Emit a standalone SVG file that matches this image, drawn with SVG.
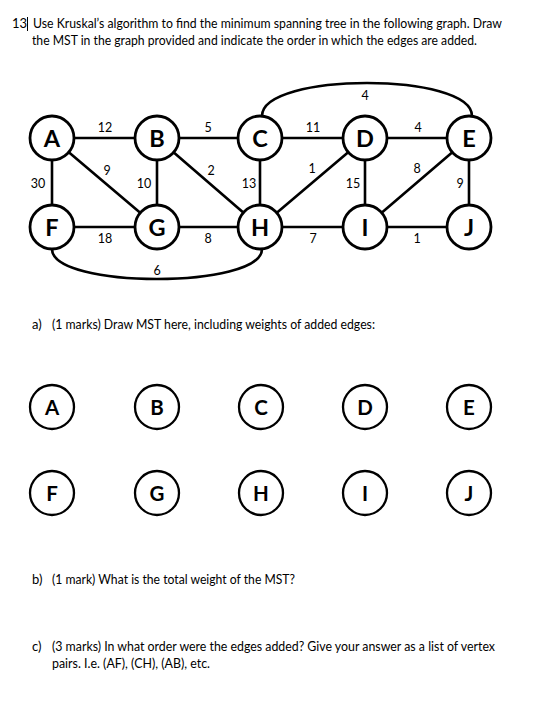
<svg xmlns="http://www.w3.org/2000/svg" width="549" height="707" viewBox="0 0 549 707">
<style>
.t{font-family:Lato,"Liberation Sans",sans-serif;font-size:13px;fill:#000}
.w{font-family:Lato,"Liberation Sans",sans-serif;font-size:12.5px;fill:#000;text-anchor:middle}
.n circle{fill:#fff;stroke:#000;stroke-width:2.8}
.n text{font-family:Lato,"Liberation Sans",sans-serif;font-weight:bold;font-size:23.5px;text-anchor:middle;fill:#000}
.m circle{fill:#fff;stroke:#000;stroke-width:2.3}
.m text{font-family:Lato,"Liberation Sans",sans-serif;font-weight:bold;font-size:20.5px;text-anchor:middle;fill:#000}
.e{stroke:#000;stroke-width:2.6;fill:none}
</style>
<rect width="549" height="707" fill="#fff"/>
<text class="t" x="12" y="28">13</text>
<line x1="27.5" y1="17" x2="27.5" y2="31" stroke="#000" stroke-width="1"/>
<text class="t" x="33" y="28" textLength="469" lengthAdjust="spacingAndGlyphs">Use Kruskal’s algorithm to find the minimum spanning tree in the following graph. Draw</text>
<text class="t" x="32" y="45" textLength="445" lengthAdjust="spacingAndGlyphs">the MST in the graph provided and indicate the order in which the edges are added.</text>
<g id="connectors">
<path class="e" d="M52 138H469M52 227H469M52 138V227M157 138V227M260 138V227M365 138V227M469 138V227M52 138L157 227M157 138L260 227M365 138L260 227M469 138L365 227"/>
<path class="e" d="M262 116C262 72 472 72 472 116"/>
<path class="e" d="M52 249C52 289 262 289 262 249"/>
</g>
<g id="weights">
<text class="w" x="105" y="132">12</text>
<text class="w" x="208" y="132">5</text>
<text class="w" x="313" y="132">11</text>
<text class="w" x="418" y="132">4</text>
<text class="w" x="365" y="100">4</text>
<text class="w" x="38" y="188">30</text>
<text class="w" x="107" y="175">9</text>
<text class="w" x="144" y="188">10</text>
<text class="w" x="211" y="175">2</text>
<text class="w" x="249" y="188">13</text>
<text class="w" x="312" y="173">1</text>
<text class="w" x="353" y="188">15</text>
<text class="w" x="417" y="173">8</text>
<text class="w" x="460" y="188">9</text>
<text class="w" x="105" y="243">18</text>
<text class="w" x="208" y="243">8</text>
<text class="w" x="313" y="243">7</text>
<text class="w" x="417" y="243">1</text>
<text class="w" x="157" y="275">6</text>
</g>
<g id="node-A" class="n"><circle cx="52" cy="138" r="22"/><text x="52" y="147">A</text></g>
<g id="node-B" class="n"><circle cx="157" cy="138" r="22"/><text x="157" y="147">B</text></g>
<g id="node-C" class="n"><circle cx="260" cy="138" r="22"/><text x="260" y="147">C</text></g>
<g id="node-D" class="n"><circle cx="365" cy="138" r="22"/><text x="365" y="147">D</text></g>
<g id="node-E" class="n"><circle cx="469" cy="138" r="22"/><text x="469" y="147">E</text></g>
<g id="node-F" class="n"><circle cx="52" cy="227" r="22"/><text x="52" y="236">F</text></g>
<g id="node-G" class="n"><circle cx="157" cy="227" r="22"/><text x="157" y="236">G</text></g>
<g id="node-H" class="n"><circle cx="260" cy="227" r="22"/><text x="260" y="236">H</text></g>
<g id="node-I" class="n"><circle cx="365" cy="227" r="22"/><text x="365" y="236">I</text></g>
<g id="node-J" class="n"><circle cx="469" cy="227" r="22"/><text x="469" y="236">J</text></g>
<text class="t" x="32" y="329">a)</text>
<text class="t" x="52" y="329" textLength="323" lengthAdjust="spacingAndGlyphs">(1 marks) Draw MST here, including weights of added edges:</text>
<g id="mst-A" class="m"><circle cx="52" cy="407" r="22"/><text x="52" y="415">A</text></g>
<g id="mst-B" class="m"><circle cx="157" cy="407" r="22"/><text x="157" y="415">B</text></g>
<g id="mst-C" class="m"><circle cx="261" cy="407" r="22"/><text x="261" y="415">C</text></g>
<g id="mst-D" class="m"><circle cx="365" cy="407" r="22"/><text x="365" y="415">D</text></g>
<g id="mst-E" class="m"><circle cx="469" cy="407" r="22"/><text x="469" y="415">E</text></g>
<g id="mst-F" class="m"><circle cx="52" cy="493" r="22"/><text x="52" y="501">F</text></g>
<g id="mst-G" class="m"><circle cx="157" cy="493" r="22"/><text x="157" y="501">G</text></g>
<g id="mst-H" class="m"><circle cx="261" cy="493" r="22"/><text x="261" y="501">H</text></g>
<g id="mst-I" class="m"><circle cx="365" cy="493" r="22"/><text x="365" y="501">I</text></g>
<g id="mst-J" class="m"><circle cx="469" cy="493" r="22"/><text x="469" y="501">J</text></g>
<text class="t" x="32" y="584">b)</text>
<text class="t" x="52" y="584" textLength="243" lengthAdjust="spacingAndGlyphs">(1 mark) What is the total weight of the MST?</text>
<text class="t" x="32" y="651">c)</text>
<text class="t" x="52" y="651" textLength="443" lengthAdjust="spacingAndGlyphs">(3 marks) In what order were the edges added? Give your answer as a list of vertex</text>
<text class="t" x="52" y="668" textLength="158" lengthAdjust="spacingAndGlyphs">pairs. I.e. (AF), (CH), (AB), etc.</text>
</svg>
